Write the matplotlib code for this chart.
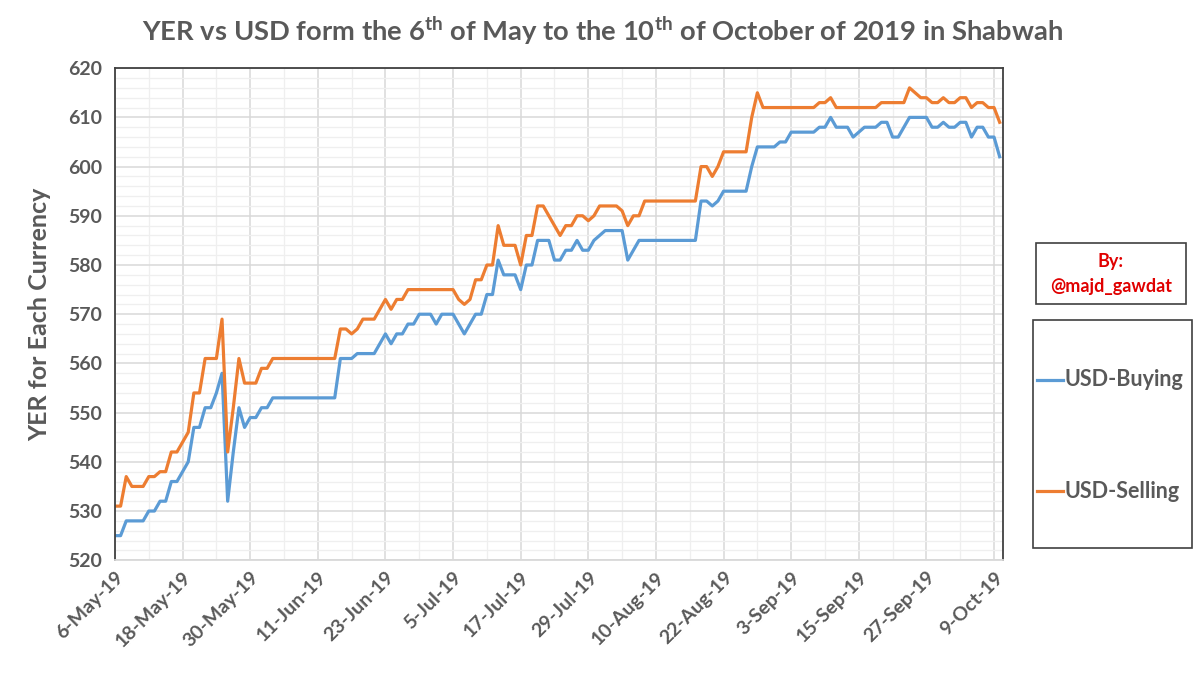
import numpy as np
import pandas as pd
import matplotlib.pyplot as plt
import matplotlib.dates as mdates
from matplotlib.patches import Rectangle
from matplotlib.lines import Line2D

# daily YER rate for one USD, 6 May to 10 Oct 2019
dates = pd.date_range('2019-05-06', '2019-10-10', freq='D')

buying = [
    525, 525, 528, 528, 528, 528, 530, 530, 532, 532,
    536, 536, 538, 540, 547, 547, 551, 551, 554, 558,
    532, 542, 551, 547, 549, 549, 551, 551, 553, 553,
    553, 553, 553, 553, 553, 553, 553, 553, 553, 553,
    561, 561, 561, 562, 562, 562, 562, 564, 566, 564,
    566, 566, 568, 568, 570, 570, 570, 568, 570, 570,
    570, 568, 566, 568, 570, 570, 574, 574, 581, 578,
    578, 578, 575, 580, 580, 585, 585, 585, 581, 581,
    583, 583, 585, 583, 583, 585, 586, 587, 587, 587,
    587, 581, 583, 585, 585, 585, 585, 585, 585, 585,
    585, 585, 585, 585, 593, 593, 592, 593, 595, 595,
    595, 595, 595, 600, 604, 604, 604, 604, 605, 605,
    607, 607, 607, 607, 607, 608, 608, 610, 608, 608,
    608, 606, 607, 608, 608, 608, 609, 609, 606, 606,
    608, 610, 610, 610, 610, 608, 608, 609, 608, 608,
    609, 609, 606, 608, 608, 606, 606, 602]

selling = [
    531, 531, 537, 535, 535, 535, 537, 537, 538, 538,
    542, 542, 544, 546, 554, 554, 561, 561, 561, 569,
    542, 551, 561, 556, 556, 556, 559, 559, 561, 561,
    561, 561, 561, 561, 561, 561, 561, 561, 561, 561,
    567, 567, 566, 567, 569, 569, 569, 571, 573, 571,
    573, 573, 575, 575, 575, 575, 575, 575, 575, 575,
    575, 573, 572, 573, 577, 577, 580, 580, 588, 584,
    584, 584, 580, 586, 586, 592, 592, 590, 588, 586,
    588, 588, 590, 590, 589, 590, 592, 592, 592, 592,
    591, 588, 590, 590, 593, 593, 593, 593, 593, 593,
    593, 593, 593, 593, 600, 600, 598, 600, 603, 603,
    603, 603, 603, 610, 615, 612, 612, 612, 612, 612,
    612, 612, 612, 612, 612, 613, 613, 614, 612, 612,
    612, 612, 612, 612, 612, 612, 613, 613, 613, 613,
    613, 616, 615, 614, 614, 613, 613, 614, 613, 613,
    614, 614, 612, 613, 613, 612, 612, 609]

series_names = ['USD-Buying', 'USD-Selling']
colors = ['#5B9BD5', '#ED7D31']
grey = '#595959'

plt.rcParams['font.family'] = ['Lato', 'DejaVu Sans']
plt.rcParams['mathtext.fontset'] = 'custom'
plt.rcParams['mathtext.rm'] = 'Lato:bold'
plt.rcParams['mathtext.bf'] = 'Lato:bold'

W, H = 1200, 675
def fx(px):
    return px / W
def fy(py):
    return 1 - py / H

fig = plt.figure(figsize=(12, 6.75), dpi=100)
ax = fig.add_axes([0.0958, 0.170, 0.740, 0.729])

ax.plot(dates, buying, color=colors[0], lw=2.3)
ax.plot(dates, selling, color=colors[1], lw=2.3)

#axes: y 520-620, x ticks every 12 days, minor grid every 6 days / 2 YER
ax.set_ylim(520, 620)
ax.set_xlim(dates[0], dates[-1] + pd.Timedelta(hours=14))
ax.set_yticks(np.arange(520, 621, 10))
ax.set_yticks(np.arange(520, 621, 2), minor=True)
ax.set_xticks(dates[::12])
ax.set_xticks(dates[::6], minor=True)
ax.xaxis.set_major_formatter(mdates.DateFormatter('%-d-%b-%y'))
ax.grid(which='major', color='#d9d9d9', lw=1.1)
ax.grid(which='minor', color='#efefef', lw=0.9)
ax.set_axisbelow(True)
ax.tick_params(which='both', length=0)
ax.tick_params(axis='y', labelsize=14, labelcolor=grey, pad=9)
ax.tick_params(axis='x', labelsize=14, labelcolor=grey, pad=6)
for lab in ax.get_xticklabels():
    lab.set_rotation(45)
    lab.set_ha('right')
    lab.set_rotation_mode('anchor')
for lab in ax.get_xticklabels() + ax.get_yticklabels():
    lab.set_fontweight('bold')
for s in ax.spines.values():
    s.set_color('#404040')
    s.set_linewidth(1.3)
ax.spines['bottom'].set_color('#d9d9d9')

ax.set_ylabel('YER for Each Currency', fontsize=18, fontweight='bold', color=grey, labelpad=12)

fig.text(0.502, 0.955, r'YER vs USD form the 6$^{\mathbf{th}}$ of May to the 10$^{\mathbf{th}}$ of October of 2019 in Shabwah',
         ha='center', va='center', fontsize=19.7, fontweight='bold', color=grey)

#credit box
fig.patches.append(Rectangle((fx(1036), fy(304)), fx(150), 61 / H, transform=fig.transFigure,
                             fill=False, edgecolor='#404040', lw=1.2))
fig.text(fx(1111), fy(262), 'By:', ha='center', va='center', fontsize=13, fontweight='bold', color='#e00000')
fig.text(fx(1111), fy(287), '@majd_gawdat', ha='center', va='center', fontsize=13, fontweight='bold', color='#e00000')

#legend box drawn by hand, entries far apart like the excel one
fig.patches.append(Rectangle((fx(1033), fy(548)), fx(159), 228 / H, transform=fig.transFigure,
                             fill=False, edgecolor='#404040', lw=1.2))
for name, c, py in zip(series_names, colors, [380, 491]):
    fig.lines.append(Line2D([fx(1037), fx(1063)], [fy(py), fy(py)], transform=fig.transFigure, color=c, lw=2.3))
    fig.text(fx(1065), fy(py), name, ha='left', va='center', fontsize=15.5, fontweight='bold', color=grey)

plt.savefig('out.png', dpi=100)
